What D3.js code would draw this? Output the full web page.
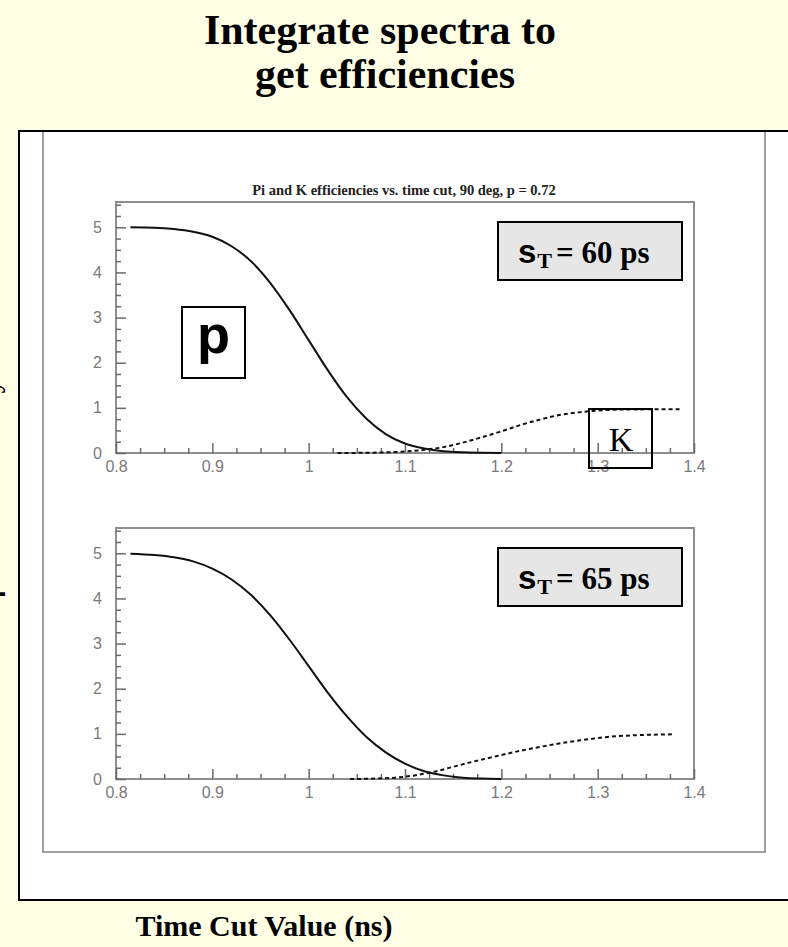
<!DOCTYPE html>
<html>
<head>
<meta charset="utf-8">
<script src="https://cdn.jsdelivr.net/npm/d3@7"></script>
<style>
  html, body { margin: 0; padding: 0; background: #FFFFE6; }
  svg { display: block; }
</style>
</head>
<body>
<svg id="chart" width="788" height="947"></svg>
<script>
// ---- data: pion and kaon efficiency vs. time cut (ns) ----
const xTicks = [0.8, 0.9, 1.0, 1.1, 1.2, 1.3, 1.4];
const xTickLabels = ["0.8", "0.9", "1", "1.1", "1.2", "1.3", "1.4"];
const yTicks = [0, 1, 2, 3, 4, 5];
const yTickLabels = ["0", "1", "2", "3", "4", "5"];

// sigma_T = 60 ps
const timeCutPiA = [0.815, 0.84, 0.86, 0.88, 0.9, 0.92, 0.94, 0.96, 0.98, 1.0, 1.02, 1.04, 1.06, 1.08, 1.1, 1.12, 1.14, 1.16, 1.18, 1.2];
const effPiA     = [5.00, 4.99, 4.96, 4.90, 4.79, 4.58, 4.25, 3.77, 3.17, 2.50, 1.83, 1.23, 0.76, 0.42, 0.21, 0.10, 0.04, 0.015, 0.005, 0.0];
const timeCutKA  = [1.03, 1.06, 1.08, 1.1, 1.12, 1.14, 1.16, 1.18, 1.2, 1.22, 1.24, 1.26, 1.28, 1.3, 1.32, 1.34, 1.36, 1.385];
const effKA      = [0.0, 0.005, 0.014, 0.033, 0.07, 0.13, 0.23, 0.35, 0.48, 0.62, 0.74, 0.84, 0.90, 0.94, 0.96, 0.965, 0.97, 0.97];

// sigma_T = 65 ps
const timeCutPiB = [0.815, 0.84, 0.86, 0.88, 0.9, 0.92, 0.94, 0.96, 0.98, 1.0, 1.02, 1.04, 1.06, 1.08, 1.1, 1.12, 1.14, 1.16, 1.18, 1.2];
const effPiB     = [4.99, 4.96, 4.91, 4.82, 4.66, 4.42, 4.08, 3.63, 3.09, 2.50, 1.91, 1.38, 0.93, 0.59, 0.34, 0.17, 0.08, 0.03, 0.01, 0.0];
const timeCutKB  = [1.043, 1.07, 1.09, 1.11, 1.13, 1.15, 1.17, 1.19, 1.21, 1.23, 1.25, 1.27, 1.29, 1.31, 1.33, 1.355, 1.38];
const effKB      = [0.0, 0.01, 0.03, 0.08, 0.16, 0.27, 0.38, 0.48, 0.58, 0.67, 0.75, 0.82, 0.88, 0.93, 0.96, 0.98, 0.99];

const resolutions = ["60", "65"];

// ---- layout ----
const svg = d3.select("#chart");
const W = 788, H = 947;
const serif = "'Liberation Serif', 'Times New Roman', serif";
const sans = "'Liberation Sans', Arial, sans-serif";
const gridGray = "#8e8e8e";

svg.append("rect").attr("width", W).attr("height", H).attr("fill", "#FFFFE6");

// slide heading
const heading = svg.append("text")
  .attr("text-anchor", "middle")
  .attr("font-family", serif).attr("font-weight", "bold").attr("font-size", 42)
  .attr("fill", "#000");
heading.append("tspan").attr("x", 380).attr("y", 44).text("Integrate spectra to");
heading.append("tspan").attr("x", 385).attr("y", 88).text("get efficiencies");

// white picture panel
svg.append("defs").append("clipPath").attr("id", "panelClip")
  .append("rect").attr("x", 20).attr("y", 132).attr("width", 770).attr("height", 767);
svg.append("rect")
  .attr("x", 19).attr("y", 131).attr("width", 780).attr("height", 769)
  .attr("fill", "#fff").attr("stroke", "#000").attr("stroke-width", 2);

const panel = svg.append("g").attr("clip-path", "url(#panelClip)");
panel.append("rect")
  .attr("x", 43).attr("y", 100).attr("width", 722).attr("height", 752)
  .attr("fill", "none").attr("stroke", "#a0a0a0").attr("stroke-width", 2);

// plot title
panel.append("text")
  .attr("x", 404).attr("y", 195)
  .attr("text-anchor", "middle")
  .attr("font-family", serif).attr("font-weight", "bold").attr("font-size", 14.5)
  .attr("fill", "#222")
  .text("Pi and K efficiencies vs. time cut, 90 deg, p = 0.72");

// two stacked frames
const plotLeft = 116, plotRight = 694;
const frames = [
  { top: 202, bottom: 453, pi: [timeCutPiA, effPiA], k: [timeCutKA, effKA], sigma: resolutions[0], labels: true },
  { top: 528, bottom: 779, pi: [timeCutPiB, effPiB], k: [timeCutKB, effKB], sigma: resolutions[1], labels: false }
];

const yMax = 5.56;
const xMinor = d3.range(0.8, 1.4001, 0.025).filter(v => Math.abs(v * 10 - Math.round(v * 10)) > 1e-6);
const yMinor = d3.range(0, 5.51, 0.25).filter(v => Math.abs(v - Math.round(v)) > 1e-6);

frames.forEach(f => {
  const x = d3.scaleLinear().domain([0.8, 1.4]).range([plotLeft, plotRight]);
  const y = d3.scaleLinear().domain([0, yMax]).range([f.bottom, f.top]);
  const g = panel.append("g");

  // frame
  g.append("rect")
    .attr("x", plotLeft).attr("y", f.top)
    .attr("width", plotRight - plotLeft).attr("height", f.bottom - f.top)
    .attr("fill", "none").attr("stroke", gridGray).attr("stroke-width", 2);

  // axes (ticks pointing inwards)
  const styleAxis = sel => {
    sel.select(".domain").remove();
    sel.selectAll(".tick line").attr("stroke", "#6a6a6a").attr("stroke-width", 1.5);
    sel.selectAll(".tick text").attr("fill", "#7a7a7a")
      .attr("font-family", sans).attr("font-size", 16);
  };

  g.append("g").attr("transform", `translate(0,${f.bottom})`)
    .call(d3.axisBottom(x).tickValues(xMinor).tickSize(-5).tickFormat(""))
    .call(styleAxis);
  g.append("g").attr("transform", `translate(0,${f.bottom})`)
    .call(d3.axisBottom(x).tickValues(xTicks).tickSize(-10).tickPadding(8)
      .tickFormat((d, i) => xTickLabels[i]))
    .call(styleAxis);

  g.append("g").attr("transform", `translate(${plotLeft},0)`)
    .call(d3.axisLeft(y).tickValues(yMinor).tickSize(-5).tickFormat(""))
    .call(styleAxis);
  g.append("g").attr("transform", `translate(${plotLeft},0)`)
    .call(d3.axisLeft(y).tickValues(yTicks).tickSize(-10).tickPadding(14)
      .tickFormat((d, i) => yTickLabels[i]))
    .call(styleAxis);

  const line = d3.line()
    .x(d => x(d[0])).y(d => y(d[1]))
    .curve(d3.curveMonotoneX);

  const piPts = f.pi[0].map((t, i) => [t, f.pi[1][i]]);
  const kPts = f.k[0].map((t, i) => [t, f.k[1][i]]);

  g.append("path").datum(kPts).attr("d", line)
    .attr("fill", "none").attr("stroke", "#111").attr("stroke-width", 2)
    .attr("stroke-dasharray", "4,3");
  g.append("path").datum(piPts).attr("d", line)
    .attr("fill", "none").attr("stroke", "#111").attr("stroke-width", 2);

  // resolution box
  const bx = plotLeft + 382, by = f.top + 20;
  g.append("rect").attr("x", bx).attr("y", by).attr("width", 184).attr("height", 58)
    .attr("fill", "#e6e6e6").attr("stroke", "#000").attr("stroke-width", 2);
  const st = g.append("text").attr("x", bx + 20).attr("y", by + 41).attr("fill", "#000");
  st.append("tspan").attr("font-family", sans).attr("font-weight", "bold").attr("font-size", 33).text("s");
  st.append("tspan").attr("font-family", serif).attr("font-weight", "bold").attr("font-size", 22)
    .attr("dy", 5).attr("dx", 1).text("T");
  st.append("tspan").attr("font-family", serif).attr("font-weight", "bold").attr("font-size", 31)
    .attr("dy", -5).attr("dx", 4).text("= " + f.sigma + " ps");

  if (f.labels) {
    // pion label
    g.append("rect").attr("x", plotLeft + 66).attr("y", f.top + 105).attr("width", 63).attr("height", 71)
      .attr("fill", "#fff").attr("stroke", "#000").attr("stroke-width", 2);
    g.append("text").attr("x", plotLeft + 97.5).attr("y", f.top + 151)
      .attr("text-anchor", "middle").attr("font-family", sans).attr("font-weight", "bold")
      .attr("font-size", 54).attr("fill", "#000").text("p");
    // kaon label
    g.append("rect").attr("x", plotLeft + 473).attr("y", f.top + 207).attr("width", 63).attr("height", 59)
      .attr("fill", "none").attr("stroke", "#000").attr("stroke-width", 2);
    g.append("text").attr("x", plotLeft + 505).attr("y", f.top + 249)
      .attr("text-anchor", "middle").attr("font-family", serif).attr("font-size", 34)
      .attr("fill", "#000").text("K");
  }
});

// vertical axis title, running off the slide's left edge
const yTitle = svg.append("text")
  .attr("transform", "translate(-1,598) rotate(-90)")
  .attr("font-family", serif).attr("font-weight", "bold").attr("font-size", 28)
  .attr("fill", "#000");
yTitle.append("tspan").attr("font-family", sans).text("p");
yTitle.append("tspan").text(" and K efficiency");

// horizontal axis title
svg.append("text")
  .attr("x", 264).attr("y", 936)
  .attr("text-anchor", "middle")
  .attr("font-family", serif).attr("font-weight", "bold").attr("font-size", 30)
  .attr("fill", "#000")
  .text("Time Cut Value (ns)");
</script>
</body>
</html>
